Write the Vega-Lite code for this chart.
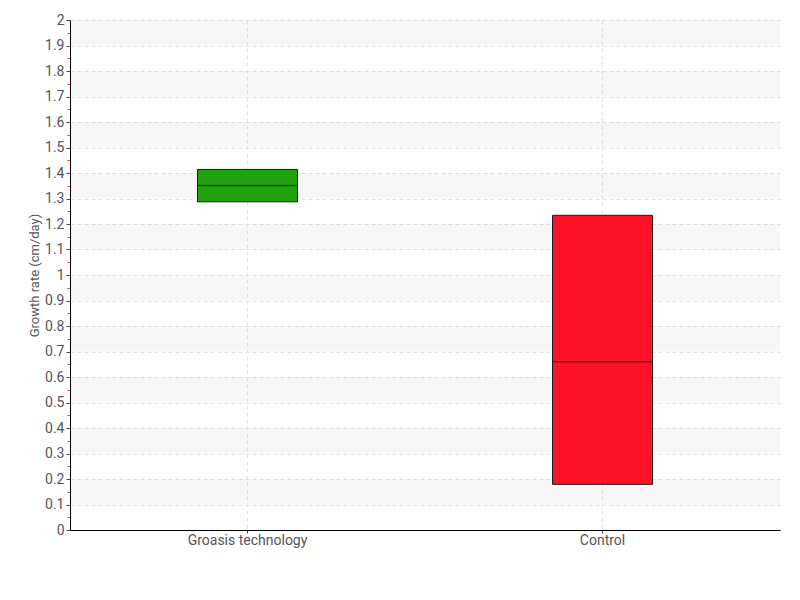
{
  "$schema": "https://vega.github.io/schema/vega-lite/v6.json",
  "width": 710,
  "height": 510,
  "autosize": "none",
  "padding": {"left": 70, "top": 20, "right": 20, "bottom": 70},
  "background": "white",
  "config": {
    "view": {"stroke": null},
    "font": "Roboto",
    "axisY": {
      "titleFontSize": 13,
      "titleFontWeight": "normal",
      "titleColor": "#555",
      "titlePadding": 3,
      "labelOverlap": false,
      "labelFlush": false,
      "labelFontSize": 14,
      "labelColor": "#555",
      "labelPadding": 2,
      "domainColor": "#000",
      "tickWidth": 1,
      "gridColor": "#e4e4e4",
      "gridDash": [4, 3]
    }
  },
  "datasets": {
    "boxes": [
      {"group": "Groasis technology", "q1": 1.287, "median": 1.351, "q3": 1.414},
      {"group": "Control", "q1": 0.179, "median": 0.66, "q3": 1.234}
    ],
    "stripes": [
      {"lo": 0.1, "hi": 0.2}, {"lo": 0.3, "hi": 0.4}, {"lo": 0.5, "hi": 0.6},
      {"lo": 0.7, "hi": 0.8}, {"lo": 0.9, "hi": 1.0}, {"lo": 1.1, "hi": 1.2},
      {"lo": 1.3, "hi": 1.4}, {"lo": 1.5, "hi": 1.6}, {"lo": 1.7, "hi": 1.8},
      {"lo": 1.9, "hi": 2.0}
    ]
  },
  "layer": [
    {
      "data": {"name": "stripes"},
      "mark": {"type": "rect", "color": "#000", "opacity": 0.03},
      "encoding": {
        "y": {
          "field": "lo", "type": "quantitative",
          "scale": {"domain": [0, 2], "nice": false, "zero": true},
          "axis": {
            "title": "Growth rate (cm/day)",
            "values": [0,0.05,0.1,0.15,0.2,0.25,0.3,0.35,0.4,0.45,0.5,0.55,0.6,0.65,0.7,0.75,0.8,0.85,0.9,0.95,1,1.05,1.1,1.15,1.2,1.25,1.3,1.35,1.4,1.45,1.5,1.55,1.6,1.65,1.7,1.75,1.8,1.85,1.9,1.95,2],
            "labelExpr": "round(datum.value*20)%2==1 ? '' : format(datum.value, '.1~f')",
            "tickColor": {"condition": {"test": "round(datum.value*20)%2==1", "value": "#ff2020"}, "value": "#444"},
            "tickSize": {"condition": {"test": "round(datum.value*20)%2==1", "value": 3}, "value": 4},
            "grid": true,
            "gridOpacity": {"condition": {"test": "round(datum.value*20)%2==1", "value": 0}, "value": 1}
          }
        },
        "y2": {"field": "hi"}
      }
    },
    {
      "data": {"name": "boxes"},
      "mark": {"type": "bar", "size": 100, "stroke": "#1a1a1a", "strokeWidth": 1},
      "encoding": {
        "x": {
          "field": "group", "type": "nominal", "sort": null,
          "scale": {"paddingInner": 0, "paddingOuter": 0},
          "axis": {
            "title": null,
            "labelAngle": 0,
            "labelFontSize": 14,
            "labelColor": "#555",
            "labelPadding": 0,
            "domainColor": "#000",
            "tickColor": "#444",
            "tickSize": 3,
            "grid": true,
            "gridColor": "#e4e4e4",
            "gridDash": [4, 3]
          }
        },
        "y": {
          "field": "q1", "type": "quantitative",
          "axis": {
            "title": "Growth rate (cm/day)",
            "values": [0,0.05,0.1,0.15,0.2,0.25,0.3,0.35,0.4,0.45,0.5,0.55,0.6,0.65,0.7,0.75,0.8,0.85,0.9,0.95,1,1.05,1.1,1.15,1.2,1.25,1.3,1.35,1.4,1.45,1.5,1.55,1.6,1.65,1.7,1.75,1.8,1.85,1.9,1.95,2],
            "labelExpr": "round(datum.value*20)%2==1 ? '' : format(datum.value, '.1~f')",
            "tickColor": {"condition": {"test": "round(datum.value*20)%2==1", "value": "#ff2020"}, "value": "#444"},
            "tickSize": {"condition": {"test": "round(datum.value*20)%2==1", "value": 3}, "value": 4},
            "grid": true,
            "gridOpacity": {"condition": {"test": "round(datum.value*20)%2==1", "value": 0}, "value": 1}
          }
        },
        "y2": {"field": "q3"},
        "color": {
          "field": "group", "type": "nominal", "legend": null,
          "scale": {"domain": ["Groasis technology", "Control"], "range": ["#1fa30f", "#ff1128"]}
        }
      }
    },
    {
      "data": {"name": "boxes"},
      "mark": {"type": "tick", "size": 98, "thickness": 1.5, "color": "#000", "opacity": 0.55},
      "encoding": {
        "x": {"field": "group", "type": "nominal", "sort": null},
        "y": {
          "field": "median", "type": "quantitative",
          "axis": {
            "title": "Growth rate (cm/day)",
            "values": [0,0.05,0.1,0.15,0.2,0.25,0.3,0.35,0.4,0.45,0.5,0.55,0.6,0.65,0.7,0.75,0.8,0.85,0.9,0.95,1,1.05,1.1,1.15,1.2,1.25,1.3,1.35,1.4,1.45,1.5,1.55,1.6,1.65,1.7,1.75,1.8,1.85,1.9,1.95,2],
            "labelExpr": "round(datum.value*20)%2==1 ? '' : format(datum.value, '.1~f')",
            "tickColor": {"condition": {"test": "round(datum.value*20)%2==1", "value": "#ff2020"}, "value": "#444"},
            "tickSize": {"condition": {"test": "round(datum.value*20)%2==1", "value": 3}, "value": 4},
            "grid": true,
            "gridOpacity": {"condition": {"test": "round(datum.value*20)%2==1", "value": 0}, "value": 1}
          }
        }
      }
    }
  ]
}
